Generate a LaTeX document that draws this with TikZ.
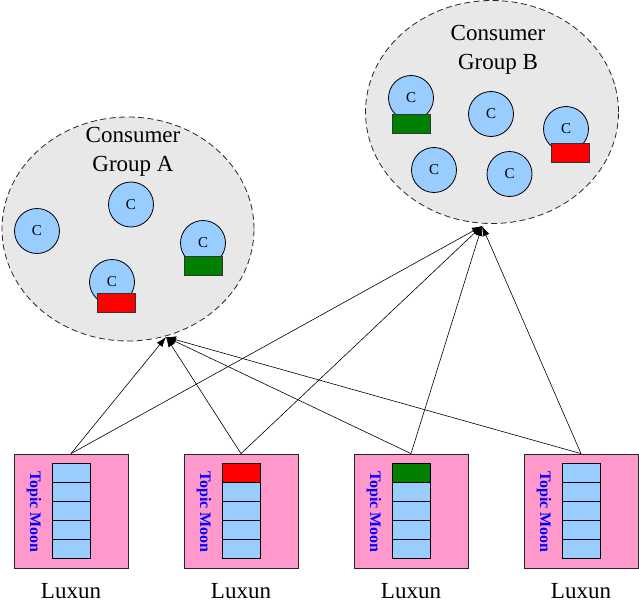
\documentclass[tikz,border=0pt]{standalone}
\usepackage{fontspec}
\setmainfont{Liberation Serif}
\usetikzlibrary{shapes.geometric,arrows.meta}
\definecolor{grpfill}{HTML}{E8E8E8}
\definecolor{cfill}{HTML}{99CCFF}
\definecolor{pinkfill}{HTML}{FF99CC}
\definecolor{gfill}{HTML}{008000}
\definecolor{rfill}{HTML}{FF0000}
\tikzset{
  grp/.style={ellipse, draw=black!85, dash pattern=on 6pt off 3.5pt, line width=0.8pt, fill=grpfill, inner sep=0pt},
  cons/.style={circle, draw=black, fill=cfill, minimum size=45pt, inner sep=0pt, font=\fontsize{15}{15}\selectfont, line width=0.8pt},
  tag/.style={rectangle, draw=black!80, fill=#1, minimum width=38pt, minimum height=19pt, inner sep=0pt, line width=0.8pt},
  broker/.style={rectangle, draw=black!85, fill=pinkfill, minimum width=114pt, minimum height=114pt, inner sep=0pt, line width=0.8pt},
  cell/.style={rectangle, draw=black, fill=#1, minimum width=38pt, minimum height=19pt, inner sep=0pt, line width=0.8pt},
  topic/.style={rotate=-90, text=blue, font=\bfseries\fontsize{16}{16}\selectfont},
  lbl/.style={font=\fontsize{23}{29}\selectfont, align=center},
  link/.style={-{Latex[length=10pt,width=7pt]}, line width=0.6pt}
}
\begin{document}
\begin{tikzpicture}[x=1pt,y=-1pt]
\useasboundingbox (0,0) rectangle (639,607);
% groups
\node[grp, minimum width=252pt, minimum height=224pt] (gA) at (128,229) {};
\node[grp, minimum width=253pt, minimum height=223pt] (gB) at (492,112) {};
\node[lbl] (tA) at (133,152) {Consumer\\Group A};
\node[lbl] (tB) at (498,50) {Consumer\\Group B};
% group A consumers
\node[cons] (a1) at (37,231) {C};
\node[cons] (a2) at (131,204.5) {C};
\node[cons] (a3) at (203,243) {C};
\node[tag=gfill] (a3t) at (203,265.5) {};
\node[cons] (a4) at (112,282) {C};
\node[tag=rfill] (a4t) at (116,302.5) {};
% group B consumers
\node[cons] (c1) at (411,98) {C};
\node[tag=gfill] (c1t) at (411,123.5) {};
\node[cons] (c2) at (491,114) {C};
\node[cons] (c3) at (566,129) {C};
\node[tag=rfill] (c3t) at (570,152.5) {};
\node[cons] (c4) at (434,170) {C};
\node[cons] (c5) at (509.5,174) {C};
% targets
\coordinate (pA) at (166,337);
\coordinate (pB) at (482,226);
% brokers
\foreach \i/\x/\top in {1/14/cfill,2/184/rfill,3/354/gfill,4/524/cfill}{
  \node[broker] (b\i) at (\x+57,511) {};
  \node[cell=\top] (b\i c1) at (\x+57,472.5) {};
  \node[cell=cfill] (b\i c2) at (\x+57,491.5) {};
  \node[cell=cfill] (b\i c3) at (\x+57,510.5) {};
  \node[cell=cfill] (b\i c4) at (\x+57,529.5) {};
  \node[cell=cfill] (b\i c5) at (\x+57,548.5) {};
  \node[topic] (b\i t) at (\x+20,512) {Topic Moon};
  \node[lbl] (b\i l) at (\x+57,591) {Luxun};
  \draw[link] (b\i.north) -- (pA);
  \draw[link] (b\i.north) -- (pB);
}
\end{tikzpicture}
\end{document}
